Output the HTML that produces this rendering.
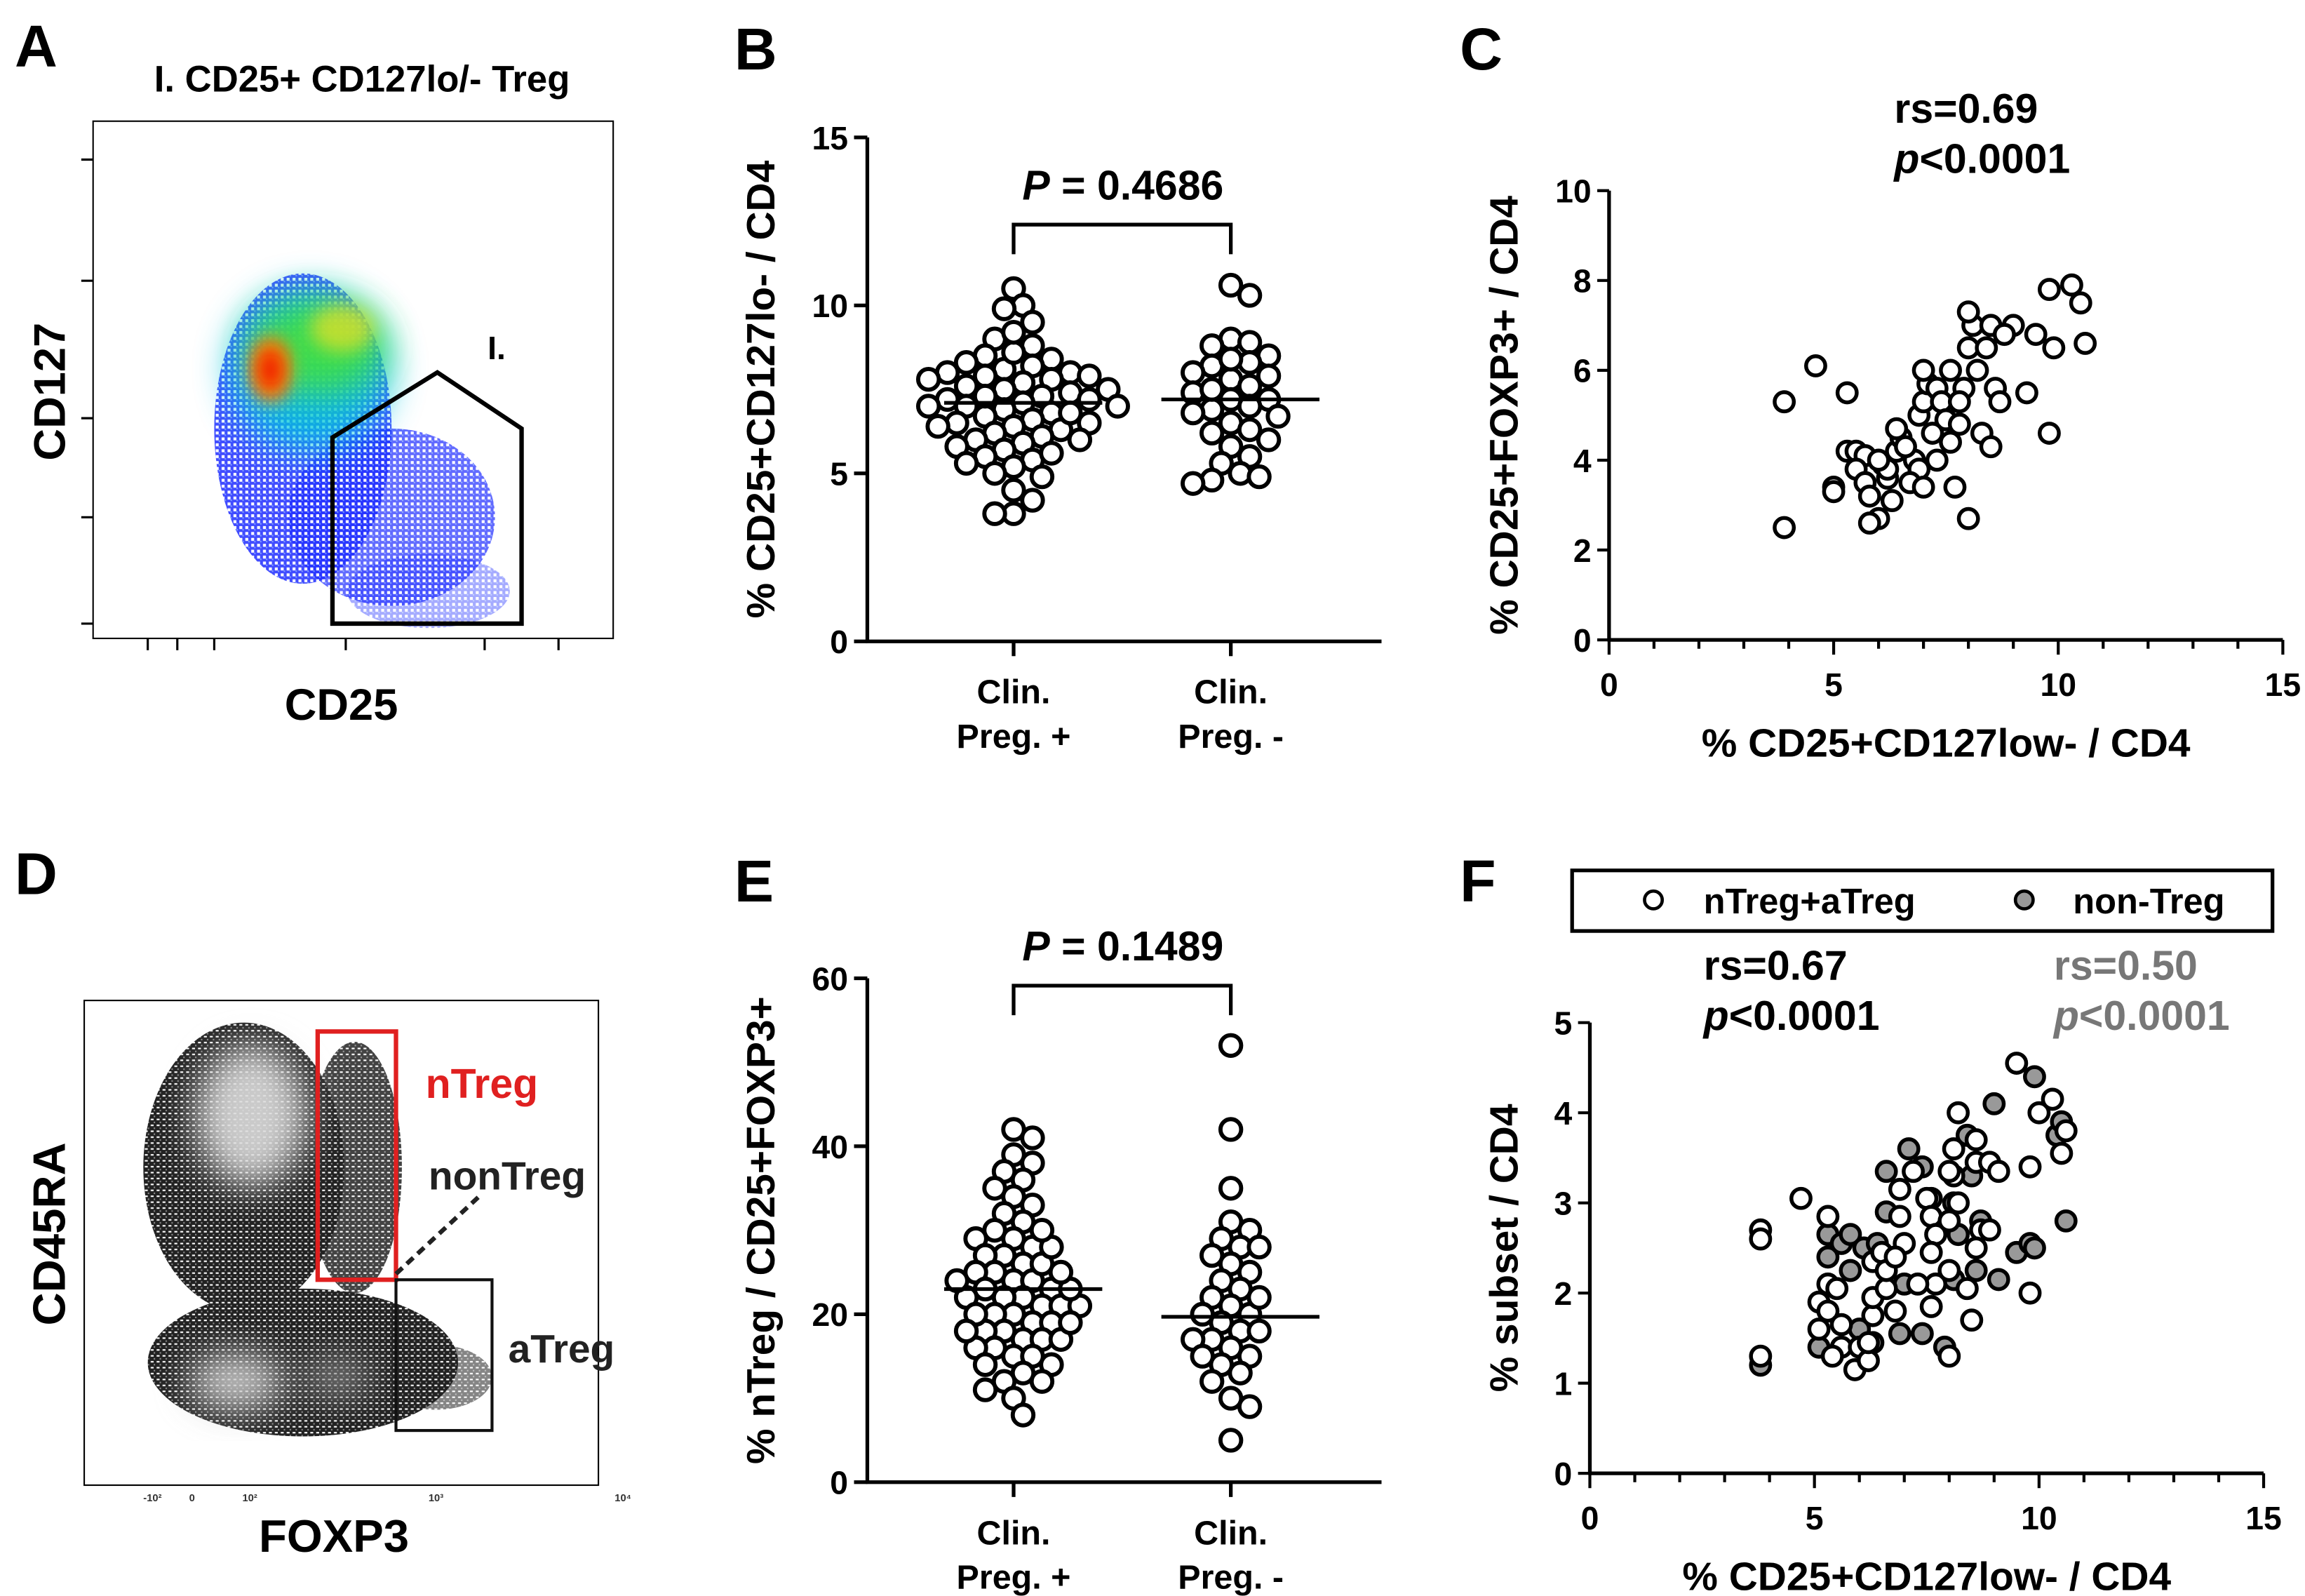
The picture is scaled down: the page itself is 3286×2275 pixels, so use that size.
<!DOCTYPE html>
<html><head><meta charset="utf-8"><style>
html,body{margin:0;padding:0;background:#fff;}
svg{display:block;}
text{font-family:"Liberation Sans",Arial,sans-serif;font-weight:bold;}
</style></head><body>
<svg id="fig" width="3286" height="2275" viewBox="0 0 1560 1080" preserveAspectRatio="none" xmlns="http://www.w3.org/2000/svg">
<defs>
<filter id="b6" x="-50%" y="-50%" width="200%" height="200%"><feGaussianBlur stdDeviation="6"/></filter>
<filter id="b12" x="-50%" y="-50%" width="200%" height="200%"><feGaussianBlur stdDeviation="12"/></filter>
<pattern id="speckB" width="4" height="4" patternUnits="userSpaceOnUse"><rect width="4" height="4" fill="#1f2cff"/><rect x="2" y="0" width="2" height="2" fill="#fff"/><rect x="0" y="2" width="1" height="1" fill="#6a8cff"/></pattern>
<pattern id="speckD" width="4" height="4" patternUnits="userSpaceOnUse"><rect width="4" height="4" fill="#222"/><rect x="2" y="1" width="2" height="1" fill="#fff"/><rect x="0" y="3" width="1" height="1" fill="#888"/></pattern>
</defs>

<!-- Panel A -->
<g>
<text x="10" y="45" font-size="40">A</text>
<text x="245" y="62" font-size="25" text-anchor="middle">I. CD25+ CD127lo/- Treg</text>
<rect x="63" y="82" width="352" height="350" fill="none" stroke="#000" stroke-width="1"/>
<g>
<ellipse cx="205" cy="290" rx="60" ry="105" fill="url(#speckB)" opacity="0.85"/>
<ellipse cx="265" cy="350" rx="70" ry="60" fill="url(#speckB)" opacity="0.7"/>
<ellipse cx="290" cy="400" rx="55" ry="25" fill="url(#speckB)" opacity="0.4"/>
<ellipse cx="210" cy="250" rx="55" ry="55" fill="#00c8e0" filter="url(#b12)" opacity="0.8"/>
<ellipse cx="215" cy="235" rx="45" ry="32" fill="#40e040" filter="url(#b12)" opacity="0.9"/>
<ellipse cx="232" cy="222" rx="22" ry="16" fill="#f0e020" filter="url(#b6)" opacity="0.7"/>
<ellipse cx="183" cy="250" rx="14" ry="22" fill="#ff8800" filter="url(#b6)"/>
<ellipse cx="183" cy="250" rx="8" ry="14" fill="#ee1a00" filter="url(#b6)"/>
</g>
<polygon points="225,422 225,296 296,252 353,290 353,422" fill="none" stroke="#000" stroke-width="3"/>
<text x="330" y="243" font-size="22">I.</text>
<text transform="translate(44,265) rotate(-90)" font-size="30" text-anchor="middle">CD127</text>
<text x="231" y="487" font-size="30" text-anchor="middle">CD25</text>
<g stroke="#000" stroke-width="1.5">
<line x1="55" y1="108" x2="63" y2="108"/><line x1="55" y1="190" x2="63" y2="190"/><line x1="55" y1="283" x2="63" y2="283"/><line x1="55" y1="350" x2="63" y2="350"/><line x1="55" y1="422" x2="63" y2="422"/>
<line x1="100" y1="432" x2="100" y2="440"/><line x1="120" y1="432" x2="120" y2="440"/><line x1="145" y1="432" x2="145" y2="440"/><line x1="234" y1="432" x2="234" y2="440"/><line x1="328" y1="432" x2="328" y2="440"/><line x1="378" y1="432" x2="378" y2="440"/>
</g>
</g>

<!-- Panel D -->
<g>
<text x="10" y="605" font-size="40">D</text>
<rect x="57" y="677" width="348" height="328" fill="none" stroke="#000" stroke-width="1"/>
<g>
<ellipse cx="165" cy="790" rx="68" ry="98" fill="url(#speckD)"/>
<ellipse cx="240" cy="790" rx="32" ry="85" fill="url(#speckD)" opacity="0.85"/>
<ellipse cx="205" cy="922" rx="105" ry="50" fill="url(#speckD)"/>
<ellipse cx="295" cy="932" rx="38" ry="22" fill="url(#speckD)" opacity="0.55"/>
<ellipse cx="170" cy="755" rx="38" ry="48" fill="#ddd" filter="url(#b12)" opacity="0.9"/>
<ellipse cx="160" cy="935" rx="33" ry="20" fill="#ccc" filter="url(#b12)" opacity="0.9"/>
<ellipse cx="228" cy="932" rx="25" ry="15" fill="#888" filter="url(#b12)" opacity="0.8"/>
</g>
<rect x="215" y="698" width="53" height="168" fill="none" stroke="#e02020" stroke-width="3"/>
<rect x="268" y="866" width="65" height="102" fill="none" stroke="#111" stroke-width="2"/>
<line x1="268" y1="862" x2="326" y2="808" stroke="#222" stroke-width="3" stroke-dasharray="6,4"/>
<text x="288" y="743" font-size="28" fill="#e02020">nTreg</text>
<text x="290" y="805" font-size="27" fill="#222">nonTreg</text>
<text x="344" y="922" font-size="27" fill="#222">aTreg</text>
<text transform="translate(44,835) rotate(-90)" font-size="31" text-anchor="middle">CD45RA</text>
<text x="226" y="1050" font-size="31" text-anchor="middle">FOXP3</text>
<g font-size="7" font-weight="normal" fill="#333">
<text x="97" y="1016">-10²</text><text x="128" y="1016">0</text><text x="164" y="1016">10²</text><text x="290" y="1016">10³</text><text x="416" y="1016">10⁴</text>
</g>
</g>

<g id="charts"></g>
</svg>
<script>
// ---------- data ----------
const bCategories = ["Clin.|Preg. +", "Clin.|Preg. -"];
const bTicks = [0, 5, 10, 15];
const bPos = [10.5,10.0,9.9,9.5,9.0,8.8,8.5,8.4,8.3,8.2,8.1,8.0,8.0,7.9,7.9,7.8,7.7,7.6,7.5,7.5,7.4,7.3,7.2,7.2,7.1,7.0,7.0,6.9,6.8,6.7,6.6,6.5,6.5,6.4,6.3,6.2,6.1,6.0,6.0,5.9,5.8,5.7,5.5,5.4,5.3,5.2,5.0,4.9,4.5,4.2,3.8,3.8,7.8,7.3,6.8,8.6,9.2,7.0,6.4,5.6];
const bNeg = [10.6,10.3,9.0,8.9,8.8,8.5,8.3,8.2,8.0,7.9,7.8,7.6,7.4,7.2,7.2,7.0,6.9,6.8,6.7,6.5,6.3,6.0,5.8,5.5,5.3,5.0,4.9,4.8,4.7,7.5,8.4,6.2];
const bMedians = [7.1, 7.2];
const bPText = "0.4686";

const eTicks = [0, 20, 40, 60];
const ePos = [42,41,39,38,37,36,35,34,33,32,31,30,29,29,28,27,27,26,25,25,24,24,23,23,22,22,21,21,20,20,19,19,18,18,17,17,16,16,15,15,14,13,12,11,10,8,26,22,20,18,28,24,30,17,21,19,23,25,14,12];
const eNeg = [52,42,35,31,30,29,28,27,26,25,24,23,22,21,20,20,19,18,18,17,17,16,15,15,14,13,12,10,9,5,28,22];
const eMedians = [23, 19.7];
const ePText = "0.1489";

const cXTicks = [0, 5, 10, 15];
const cYTicks = [0, 2, 4, 6, 8, 10];
const cX = [3.9,3.9,4.6,5.3,5.3,5.5,5.7,5.5,5.0,5.0,5.7,5.8,6.0,5.8,6.2,6.3,6.1,6.4,6.5,6.4,6.8,6.9,6.7,7.0,6.9,7.0,7.1,7.0,7.3,7.4,7.5,7.2,7.6,7.8,7.9,8.0,8.1,8.0,8.2,8.4,8.5,8.6,8.7,8.3,8.5,7.7,8.0,9.0,9.3,9.5,9.8,9.9,10.3,10.5,10.6,9.8,6.2,7.3,6.6,8.8,6.0,7.8,7.6];
const cY = [2.5,5.3,6.1,5.5,4.2,4.2,4.1,3.8,3.4,3.3,3.5,3.2,2.7,2.6,3.6,3.1,3.9,4.2,4.5,4.7,4.0,3.8,3.5,3.4,5.0,5.3,5.7,6.0,5.6,5.3,4.9,4.6,4.4,4.8,5.6,6.5,7.0,7.3,6.0,6.5,7.0,5.6,5.3,4.6,4.3,3.4,2.7,7.0,5.5,6.8,7.8,6.5,7.9,7.5,6.6,4.6,3.8,4.0,4.3,6.8,4.0,5.3,6.0];

const fXTicks = [0, 5, 10, 15];
const fYTicks = [0, 1, 2, 3, 4, 5];
const fWhiteX = [3.8,3.8,3.8,4.7,5.3,5.3,5.1,5.1,5.3,5.5,5.6,5.6,5.4,5.9,6.0,6.2,6.2,6.3,6.3,6.3,6.5,6.6,6.6,6.8,6.9,6.9,7.2,7.5,7.6,7.7,7.7,7.6,7.3,8.0,8.0,8.0,8.1,8.1,8.2,8.2,8.6,8.6,8.7,8.6,8.4,8.5,8.9,9.1,8.9,9.5,9.8,9.8,10.0,10.3,10.6,10.5,8.0,7.0,7.6,6.8];
const fWhiteY = [2.7,2.6,1.3,3.05,2.85,2.1,1.9,1.6,1.8,2.05,1.65,1.4,1.3,1.15,1.4,1.25,1.45,1.75,1.95,2.35,2.45,2.05,2.25,1.8,2.85,3.15,3.35,3.05,2.85,2.65,2.1,1.85,2.1,1.3,2.25,2.8,3.3,3.6,3.0,4.0,3.7,3.45,2.7,2.5,2.05,1.7,3.45,3.35,2.7,4.55,3.4,2.0,4.0,4.15,3.8,3.55,3.35,2.55,2.45,2.4];
const fGrayX = [3.8,5.1,5.3,5.3,5.6,5.8,5.8,6.0,6.1,6.3,6.4,6.6,6.6,6.9,7.1,7.4,7.4,7.9,8.1,8.2,8.4,8.5,8.6,8.7,9.1,9.5,9.0,9.8,9.9,9.9,10.4,10.5,10.6,8.1,7.6,7.0];
const fGrayY = [1.2,1.4,2.4,2.65,2.55,2.65,2.25,1.6,2.5,1.45,2.55,2.9,3.35,1.55,3.6,3.4,1.55,1.4,2.15,2.65,3.75,3.3,2.25,2.8,2.15,2.45,4.1,2.55,2.5,4.4,3.75,3.9,2.8,3.0,3.05,2.1];

// ---------- helpers ----------
const NS = "http://www.w3.org/2000/svg";
const root = document.getElementById("charts");
function mk(tag, attrs, parent) {
  const el = document.createElementNS(NS, tag);
  for (const k in attrs) el.setAttribute(k, attrs[k]);
  (parent || root).appendChild(el);
  return el;
}
function linScale(d0, d1, r0, r1) { return v => r0 + (v - d0) * (r1 - r0) / (d1 - d0); }

function beeswarm(vals, cx, yScale, r) {
  const placed = [];
  const order = vals.map((v, i) => i).sort((a, b) => vals[b] - vals[a]);
  const out = new Array(vals.length);
  const d = 1.55 * r;
  order.forEach(i => {
    const y = yScale(vals[i]);
    for (let k = 0; k < 40; k++) {
      const off = (k % 2 ? 1 : -1) * Math.ceil(k / 2) * (r * 0.8);
      const x = cx + off;
      if (placed.every(p => (p[0] - x) ** 2 + (p[1] - y) ** 2 >= d * d) || k === 39) {
        placed.push([x, y]); out[i] = [x, y]; break;
      }
    }
  });
  return out;
}

function dotPlot(opts) {
  const g = mk("g", {});
  
  
  const y = linScale(opts.ymin, opts.ymax, opts.y0, opts.y1);
  const xL = 587, xR = 935, cats = [686, 833];
  const lt = mk("text", {x: 497, y: opts.labelY, "font-size": 40}, g);
  lt.textContent = opts.letter;
  
  
  const ya = mk("line", {x1: xL, y1: opts.y0 + 1, x2: xL, y2: opts.y1, stroke: "#000", "stroke-width": 2.5}, g);
  
  
  const xa = mk("line", {x1: xL - 1, y1: opts.y0, x2: xR, y2: opts.y0, stroke: "#000", "stroke-width": 2.5}, g);
  
  
  opts.ticks.forEach(t => {
    const tl = mk("line", {x1: xL - 9, y1: y(t), x2: xL, y2: y(t), stroke: "#000", "stroke-width": 2.5}, g);
    
    
    const tx = mk("text", {x: xL - 13, y: y(t) + 8, "font-size": 22, "text-anchor": "end"}, g);
    tx.textContent = t;
    
    
  });
  bCategories.forEach((c, i) => {
    const tl = mk("line", {x1: cats[i], y1: opts.y0, x2: cats[i], y2: opts.y0 + 10, stroke: "#000", "stroke-width": 2.5}, g);
    
    
    const parts = c.split("|");
    parts.forEach((p, j) => {
      const tx = mk("text", {x: cats[i], y: opts.y0 + 42 + j * 30, "font-size": 23, "text-anchor": "middle"}, g);
      tx.textContent = p;
      
      
    });
  });
  const yt = mk("text", {transform: `translate(${opts.titleX},${(opts.y0 + opts.y1) / 2}) rotate(-90)`, "font-size": 27, "text-anchor": "middle"}, g);
  yt.textContent = opts.ytitle;
  
  
  const br = mk("path", {d: `M${cats[0]},${opts.brY + 20} V${opts.brY} H${cats[1]} V${opts.brY + 20}`, fill: "none", stroke: "#000", "stroke-width": 2.5}, g);
  
  
  const pt = mk("text", {x: 760, y: opts.brY - 17, "font-size": 28, "text-anchor": "middle"}, g);
  
  
  const ip = mk("tspan", {"font-style": "italic"}, pt); ip.textContent = "P";
  const rest = mk("tspan", {}, pt); rest.textContent = " = " + opts.ptext;
  [opts.g1, opts.g2].forEach((vals, gi) => {
    const pts = beeswarm(vals, cats[gi], y, 8);
    pts.forEach(p => {
      const c = mk("circle", {cx: p[0], cy: p[1], r: 7, fill: "#fff", stroke: "#000", "stroke-width": 2.8}, g);
      
      
    });
    const m = mk("line", {x1: cats[gi] - 47, x2: cats[gi] + 60, y1: y(opts.medians[gi]), y2: y(opts.medians[gi]), stroke: "#000", "stroke-width": 2.5}, g);
    
    
  });
}

function scatterAxes(g, o) {
  const x = linScale(0, 15, o.x0, o.x1), y = linScale(0, o.ymax, o.y0, o.y1);
  const ya = mk("line", {x1: o.x0, y1: o.y0 + 1, x2: o.x0, y2: o.y1, stroke: "#000", "stroke-width": 2.5}, g);
  
  
  const xa = mk("line", {x1: o.x0 - 1, y1: o.y0, x2: o.x1, y2: o.y0, stroke: "#000", "stroke-width": 2.5}, g);
  
  
  for (let v = 0; v <= 15; v++) {
    const tl = mk("line", {x1: x(v), y1: o.y0, x2: x(v), y2: o.y0 + (v % 5 ? 6 : 10), stroke: "#000", "stroke-width": 2}, g);
    
    
  }
  o.xticks.forEach(t => {
    const tx = mk("text", {x: x(t), y: o.y0 + 38, "font-size": 22, "text-anchor": "middle"}, g);
    tx.textContent = t;
    
    
  });
  o.yticks.forEach(t => {
    const tl = mk("line", {x1: o.x0 - 8, y1: y(t), x2: o.x0, y2: y(t), stroke: "#000", "stroke-width": 2}, g);
    
    
    const tx = mk("text", {x: o.x0 - 12, y: y(t) + 8, "font-size": 22, "text-anchor": "end"}, g);
    tx.textContent = t;
    
    
  });
  const xt = mk("text", {x: (o.x0 + o.x1) / 2, y: o.y0 + 79, "font-size": 27, "text-anchor": "middle"}, g);
  xt.textContent = "% CD25+CD127low- / CD4";
  
  
  const yt = mk("text", {transform: `translate(${o.titleX},${(o.y0 + o.y1) / 2}) rotate(-90)`, "font-size": 27, "text-anchor": "middle"}, g);
  yt.textContent = o.ytitle;
  
  
  return [x, y];
}
function statText(g, xp, yp, rs, col) {
  const a = mk("text", {x: xp, y: yp, "font-size": 28, fill: col}, g);
  a.textContent = "rs=" + rs;
  
  
  const b = mk("text", {x: xp, y: yp + 34, "font-size": 28, fill: col}, g);
  
  
  const i = mk("tspan", {"font-style": "italic"}, b); i.textContent = "p";
  const r = mk("tspan", {}, b); r.textContent = "<0.0001";
}

dotPlot({name: "panel-b", letter: "B", labelY: 47, y0: 434, y1: 93, ymin: 0, ymax: 15, ticks: bTicks, g1: bPos, g2: bNeg, medians: bMedians, ptext: bPText, brY: 152, titleX: 524, ytitle: "% CD25+CD127lo- / CD4"});
dotPlot({name: "panel-e", letter: "E", labelY: 610, y0: 1003, y1: 662, ymin: 0, ymax: 60, ticks: eTicks, g1: ePos, g2: eNeg, medians: eMedians, ptext: ePText, brY: 667, titleX: 524, ytitle: "% nTreg / CD25+FOXP3+"});

const gC = mk("g", {});


const lc = mk("text", {x: 988, y: 47, "font-size": 40}, gC);
lc.textContent = "C";


const [cxS, cyS] = scatterAxes(gC, {x0: 1089, x1: 1545, y0: 433, y1: 129, ymax: 10, xticks: cXTicks, yticks: cYTicks, titleX: 1027, ytitle: "% CD25+FOXP3+ / CD4"});
statText(gC, 1282, 83, "0.69", "#000");
cX.forEach((v, i) => {
  const c = mk("circle", {cx: cxS(v), cy: cyS(cY[i]), r: 6.5, fill: "#fff", stroke: "#000", "stroke-width": 2.6}, gC);
  
  
});

const gF = mk("g", {});


const lf = mk("text", {x: 988, y: 610, "font-size": 40}, gF);
lf.textContent = "F";


const lg = mk("g", {}, gF);


const lb = mk("rect", {x: 1064, y: 589, width: 474, height: 41, fill: "#fff", stroke: "#000", "stroke-width": 2.5}, lg);


const l1c = mk("circle", {cx: 1119, cy: 609, r: 6, fill: "#fff", stroke: "#000", "stroke-width": 2.2}, lg);


const l1t = mk("text", {x: 1153, y: 618, "font-size": 24}, lg);
l1t.textContent = "nTreg+aTreg";


const l2c = mk("circle", {cx: 1370, cy: 609, r: 6, fill: "#999", stroke: "#000", "stroke-width": 2.2}, lg);


const l2t = mk("text", {x: 1403, y: 618, "font-size": 24}, lg);
l2t.textContent = "non-Treg";


const [fxS, fyS] = scatterAxes(gF, {x0: 1076, x1: 1532, y0: 997, y1: 692, ymax: 5, xticks: fXTicks, yticks: fYTicks, titleX: 1027, ytitle: "% subset / CD4"});
statText(gF, 1153, 663, "0.67", "#000");
statText(gF, 1390, 663, "0.50", "#777");
fGrayX.forEach((v, i) => {
  const c = mk("circle", {cx: fxS(v), cy: fyS(fGrayY[i]), r: 6.5, fill: "#999", stroke: "#000", "stroke-width": 2.6}, gF);
  
  
});
fWhiteX.forEach((v, i) => {
  const c = mk("circle", {cx: fxS(v), cy: fyS(fWhiteY[i]), r: 6.5, fill: "#fff", stroke: "#000", "stroke-width": 2.6}, gF);
  
  
});
</script>
</body></html>
